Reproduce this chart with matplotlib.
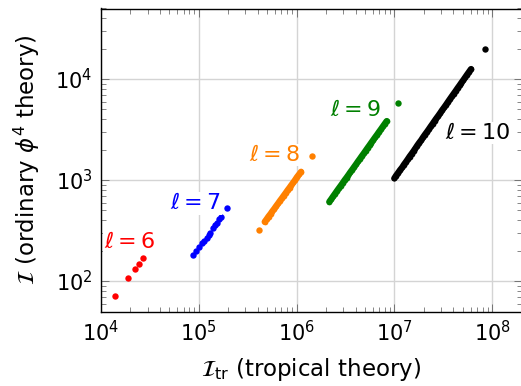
import numpy as np
import matplotlib
matplotlib.use("Agg")
import matplotlib.pyplot as plt

plt.rcParams['mathtext.fontset'] = 'dejavusans'

# l = 6
x6 = [1.40e4, 1.90e4, 2.21e4, 2.45e4, 2.67e4]
y6 = [71, 107, 131, 148, 168]

# l = 7
x7 = [8.66e4, 9.35e4, 1.01e5, 1.08e5, 1.13e5, 1.20e5, 1.27e5, 1.30e5,
      1.39e5, 1.46e5, 1.52e5, 1.62e5, 1.68e5, 1.95e5]
y7 = [181, 198, 219, 238, 249, 269, 289, 297, 333, 358, 373, 411, 433, 532]

# l = 8 (dense run + separate points)
x8 = [4.72e5, 4.94e5, 5.16e5, 5.41e5, 5.65e5, 5.92e5, 6.18e5, 6.47e5,
      6.76e5, 7.08e5, 7.40e5, 7.74e5, 8.09e5, 8.47e5, 8.85e5, 9.27e5, 9.68e5,
      1.01e6, 1.06e6, 1.11e6]
y8 = [386, 410, 436, 462, 491, 521, 553, 587, 624, 662, 703, 746, 793,
      841, 893, 948, 1007, 1072, 1138, 1208]
x8_out = [4.16e5, 1.42e6]
y8_out = [320, 1730]

# l = 9
x9 = [2.16e6, 2.26e6, 2.36e6, 2.47e6, 2.58e6, 2.70e6, 2.83e6, 2.96e6, 3.09e6,
      3.24e6, 3.39e6, 3.54e6, 3.71e6, 3.88e6, 4.06e6, 4.24e6, 4.44e6, 4.64e6,
      4.86e6, 5.08e6, 5.31e6, 5.56e6, 5.81e6, 6.08e6, 6.36e6, 6.66e6, 6.96e6,
      7.29e6, 7.62e6, 7.97e6, 8.34e6]
y9 = [610, 648, 689, 733, 779, 828, 881, 936, 996, 1058, 1125, 1196, 1272,
      1353, 1438, 1529, 1626, 1729, 1838, 1954, 2078, 2210, 2349, 2498, 2656,
      2823, 3002, 3192, 3394, 3608, 3837]
x9_out = [1.09e7]
y9_out = [5740]

# l = 10
x10 = [9.98e6, 1.04e7, 1.09e7, 1.14e7, 1.20e7, 1.25e7, 1.31e7, 1.37e7, 1.43e7,
       1.50e7, 1.57e7, 1.64e7, 1.71e7, 1.79e7, 1.88e7, 1.96e7, 2.05e7, 2.15e7,
       2.25e7, 2.35e7, 2.46e7, 2.57e7, 2.69e7, 2.82e7, 2.95e7, 3.08e7, 3.23e7,
       3.38e7, 3.53e7, 3.69e7, 3.86e7, 4.04e7, 4.23e7, 4.42e7, 4.63e7, 4.84e7,
       5.07e7, 5.30e7, 5.54e7, 5.80e7, 6.07e7]
y10 = [1040, 1107, 1178, 1254, 1334, 1420, 1511, 1608, 1712, 1822, 1939, 2063,
       2196, 2337, 2487, 2647, 2817, 2999, 3191, 3396, 3614, 3847, 4094, 4357,
       4637, 4935, 5252, 5590, 5949, 6331, 6738, 7171, 7632, 8122, 8644, 9200,
       9790, 10420, 11090, 11800, 12560]
x10_out = [8.44e7]
y10_out = [19800]

labels = [r'$\ell = 6$', r'$\ell = 7$', r'$\ell = 8$', r'$\ell = 9$', r'$\ell = 10$']
label_x = [1.98e4, 9.2e4, 6.0e5, 3.98e6, 7.1e7]
label_y = [243, 591, 1770, 4930, 2920]
colors = ['red', 'blue', '#ff8000', '#008000', 'black']

fig = plt.figure(figsize=(5.21, 3.86), dpi=100)
ax = fig.add_axes([101 / 521, 1 - 311.5 / 386, 420.7 / 521, 303 / 386])

dot = 4.6  # marker diameter in points

ax.scatter(x6, y6, s=dot**2, color=colors[0], linewidths=0, zorder=3)
ax.scatter(x7, y7, s=dot**2, color=colors[1], linewidths=0, zorder=3)
for xs, ys, xo, yo, c in [(x8, y8, x8_out, y8_out, colors[2]),
                          (x9, y9, x9_out, y9_out, colors[3]),
                          (x10, y10, x10_out, y10_out, colors[4])]:
    # the many points of these loop orders merge into a solid band
    ax.plot(xs, ys, '-o', color=c, lw=dot, ms=dot * 0.9, mew=0,
            solid_capstyle='round', zorder=3)
    ax.scatter(xo, yo, s=dot**2, color=c, linewidths=0, zorder=3)

for lab, lx, ly, c in zip(labels, label_x, label_y, colors):
    ax.text(lx, ly, lab, color=c, fontsize=16, ha='center', va='center', zorder=5,
            clip_on=False, bbox=dict(facecolor='white', edgecolor='none', pad=1))

ax.set_xscale('log')
ax.set_yscale('log')
ax.set_xlim(1e4, 2e8)
ax.set_ylim(50, 5e4)
ax.grid(True, which='major', color='#d4d4d4', linewidth=1)
ax.set_axisbelow(True)
ax.tick_params(which='both', direction='in', top=True, right=True,
               labelsize=15, color='0.45')
ax.tick_params(which='major', length=6, width=0.7, pad=6)
ax.tick_params(which='minor', length=3.5, width=0.6)
for sp in ax.spines.values():
    sp.set_linewidth(1)

ax.set_xlabel(r'$\mathcal{I}_{\rm tr}$ (tropical theory)', fontsize=16.5, labelpad=8)
ax.set_ylabel(r'$\mathcal{I}$ (ordinary $\phi^4$ theory)', fontsize=16.5, labelpad=10)

fig.savefig('out.png', dpi=100)
